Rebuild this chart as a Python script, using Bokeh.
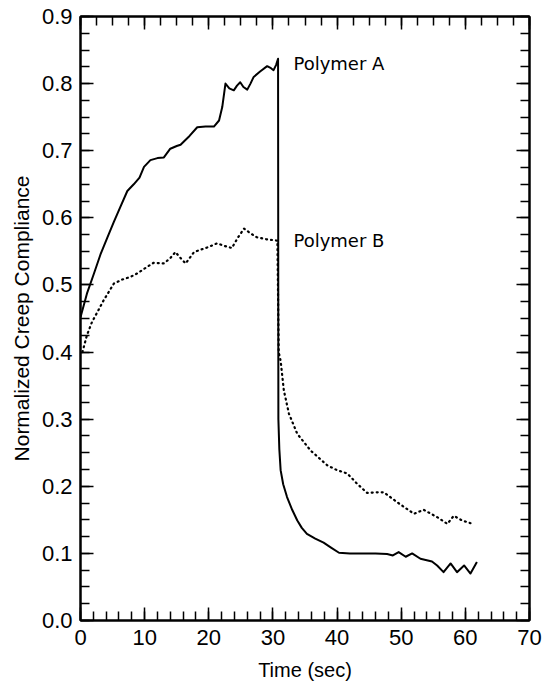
from bokeh.plotting import figure
from bokeh.models import (LinearAxis, SingleIntervalTicker, PrintfTickFormatter,
                          CustomJSTickFormatter, Range1d)
from bokeh.core.properties import value
from bokeh.embed import file_html
from bokeh.resources import INLINE

# Creep / recovery curves: time (s) vs normalized creep compliance
time_a = [0.0, 1.0, 2.1, 3.1, 4.2, 5.2, 6.2, 7.3, 8.3, 9.2, 9.9, 10.9, 12.0, 13.0,
          14.0, 15.0, 15.6, 17.0, 18.2, 19.5, 20.8, 21.6, 22.1, 22.6, 23.2, 23.9,
          24.4, 24.9, 25.4, 26.0, 26.5, 27.0, 28.0, 29.1, 29.7, 30.1, 30.5, 30.8,
          30.85, 31.0, 31.2, 31.6, 32.2, 33.0, 33.8, 34.5, 35.3, 36.6, 37.9, 39.0,
          40.3, 42.0, 44.2, 46.0, 47.8, 48.7, 49.6, 50.7, 51.7, 53.0, 54.8, 55.6,
          56.6, 57.7, 58.7, 59.8, 60.8, 61.8]
comp_a = [0.452, 0.487, 0.517, 0.545, 0.571, 0.594, 0.616, 0.640, 0.650, 0.660,
          0.676, 0.686, 0.689, 0.690, 0.703, 0.707, 0.709, 0.722, 0.735, 0.736,
          0.736, 0.745, 0.765, 0.800, 0.793, 0.790, 0.797, 0.802, 0.795, 0.791,
          0.800, 0.810, 0.818, 0.826, 0.823, 0.820, 0.828, 0.837,
          0.300, 0.255, 0.224, 0.203, 0.184, 0.165, 0.149, 0.138, 0.129, 0.122,
          0.116, 0.109, 0.101, 0.100, 0.100, 0.100, 0.099, 0.097, 0.102, 0.095,
          0.100, 0.092, 0.088, 0.082, 0.072, 0.085, 0.072, 0.082, 0.070, 0.087]

time_b = [0.3, 1.0, 1.8, 2.6, 3.6, 5.2, 6.5, 7.8, 9.0, 9.9, 11.4, 13.0, 14.0, 14.8,
          15.6, 16.4, 17.7, 19.8, 21.3, 22.5, 23.6, 24.5, 25.5, 26.5, 27.5, 29.0,
          30.7, 30.9, 31.2, 31.7, 32.5, 33.8, 35.9, 38.5, 40.0, 41.6, 43.1, 44.7,
          46.0, 47.3, 49.4, 52.0, 53.5, 55.6, 57.2, 58.2, 59.5, 60.8]
comp_b = [0.400, 0.425, 0.445, 0.459, 0.477, 0.502, 0.508, 0.512, 0.518, 0.524,
          0.533, 0.532, 0.540, 0.549, 0.540, 0.532, 0.549, 0.556, 0.562, 0.558,
          0.555, 0.570, 0.584, 0.577, 0.571, 0.568, 0.566, 0.400, 0.387, 0.343,
          0.308, 0.278, 0.253, 0.231, 0.224, 0.219, 0.204, 0.190, 0.191, 0.191,
          0.176, 0.159, 0.165, 0.154, 0.144, 0.156, 0.149, 0.145]

series_labels = ["Polymer A", "Polymer B"]
label_x = [33.2, 33.2]
label_y = [0.830, 0.566]

x_tick_step = 10
y_tick_step = 0.1

p = figure(width=542, height=685, output_backend="svg", toolbar_location=None,
           x_range=Range1d(0, 70), y_range=Range1d(0, 0.9),
           min_border_left=80, min_border_right=13, min_border_top=16,
           min_border_bottom=65, background_fill_color="white",
           border_fill_color="white")
p.grid.visible = False
p.outline_line_color = "black"
p.outline_line_width = 2

xt = SingleIntervalTicker(interval=x_tick_step, num_minor_ticks=4)
yt = SingleIntervalTicker(interval=y_tick_step, num_minor_ticks=4)

blank = CustomJSTickFormatter(code="return ''")
p.add_layout(LinearAxis(ticker=xt, formatter=blank), "above")
p.add_layout(LinearAxis(ticker=yt, formatter=blank), "right")

p.xaxis[0].ticker = xt
p.yaxis[0].ticker = yt
p.yaxis[0].formatter = PrintfTickFormatter(format="%.1f")

for ax in p.xaxis + p.yaxis:
    ax.axis_line_width = 2
    ax.axis_line_color = "black"
    ax.major_tick_in = 13
    ax.major_tick_out = 0
    ax.minor_tick_in = 9
    ax.minor_tick_out = 0
    ax.major_tick_line_width = 1.5
    ax.minor_tick_line_width = 1.5
    ax.major_tick_line_color = "black"
    ax.minor_tick_line_color = "black"
    ax.major_label_text_font = "Liberation Sans"
    ax.major_label_text_font_size = "22px"
    ax.major_label_text_color = "black"
    ax.axis_label_text_font = "Liberation Sans"
    ax.axis_label_text_font_style = "normal"
    ax.axis_label_text_color = "black"

for ax in (p.above[0], p.right[0]):
    ax.major_label_text_font_size = "0px"
    ax.major_label_standoff = 0

p.below[0].axis_label = "Time (sec)"
p.below[0].axis_label_text_font_size = "20px"
p.below[0].major_label_standoff = 9
p.below[0].axis_label_standoff = 11

p.left[0].axis_label = "Normalized Creep Compliance"
p.left[0].axis_label_text_font_size = "21px"
p.left[0].major_label_standoff = 8
p.left[0].axis_label_standoff = 6

p.line(time_a, comp_a, line_color="black", line_width=2, line_join="round")
p.line(time_b, comp_b, line_color="black", line_width=2.2, line_dash="1 4",
       line_cap="round", line_join="round")

p.text(x=label_x, y=label_y, text=series_labels, text_font=value("DejaVu Sans"),
       text_font_size="18px", text_align="left", text_baseline="middle",
       text_color="black")

open("out.html", "w").write(file_html(p, INLINE))
